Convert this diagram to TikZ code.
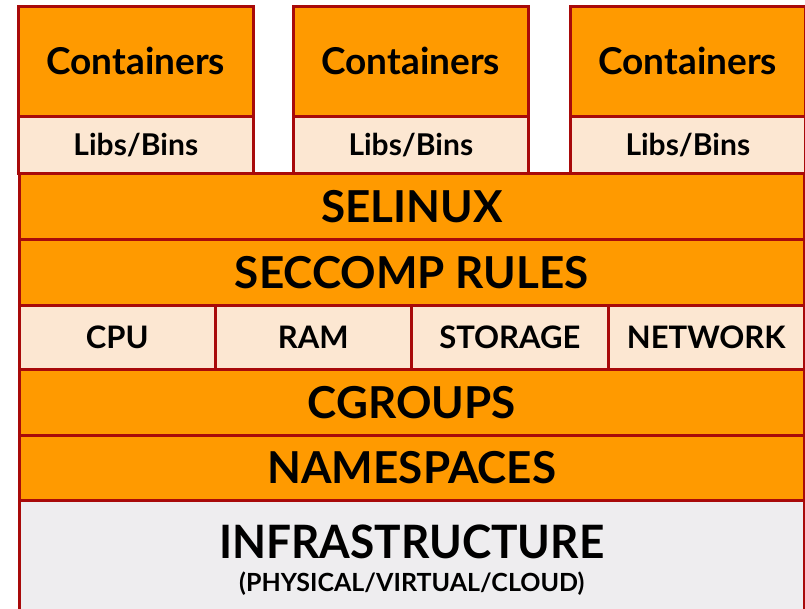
\documentclass[tikz,border=0pt]{standalone}
\usepackage{fontspec}
\setmainfont{Lato}
\definecolor{org}{HTML}{FF9A00}
\definecolor{edge}{HTML}{A80A0A}
\definecolor{peach}{HTML}{FCE7D2}
\definecolor{infra}{HTML}{EEEDEF}
\begin{document}
\begin{tikzpicture}[x=1pt,y=-1pt,
  blk/.style={draw=edge,line width=2.6pt,anchor=north west,inner sep=0pt,font=\bfseries},
  ob/.style={blk,fill=org},
  pb/.style={blk,fill=peach},
  ib/.style={blk,fill=infra},
  big/.style={font=\bfseries\fontsize{44}{44}\selectfont},
  res/.style={font=\bfseries\fontsize{31}{31}\selectfont}]
\useasboundingbox (0,0) rectangle (805,609);
% containers
\foreach \n/\x in {1/17,2/292,3/569}{
  \node[ob,minimum width=235pt,minimum height=110pt,font=\bfseries\fontsize{37}{37}\selectfont] (c\n) at (\x,5) {Containers};
  \node[pb,minimum width=235pt,minimum height=57pt,font=\bfseries\fontsize{30}{30}\selectfont] (l\n) at (\x,115) {Libs/Bins};
}
\node[ob,big,minimum width=785pt,minimum height=66pt] (sel) at (18,172) {SELINUX};
\node[ob,big,minimum width=785pt,minimum height=66pt] (sec) at (18,238) {SECCOMP RULES};
\node[pb,res,minimum width=196pt,minimum height=64pt] (cpu) at (18,304) {CPU};
\node[pb,res,minimum width=196pt,minimum height=64pt] (ram) at (214,304) {RAM};
\node[pb,res,minimum width=197pt,minimum height=64pt] (sto) at (410,304) {STORAGE};
\node[pb,res,minimum width=196pt,minimum height=64pt] (net) at (607,304) {NETWORK};
\node[ob,big,minimum width=785pt,minimum height=66pt] (cg) at (18,368) {CGROUPS};
\node[ob,big,minimum width=785pt,minimum height=65pt] (ns) at (18,434) {NAMESPACES};
\node[ib,minimum width=785pt,minimum height=112pt] (inf) at (18,499) {};
\node[align=center,inner sep=0pt] (inft) at ([yshift=-4pt]inf.center) {\scalebox{0.96}[1]{\fontsize{46}{46}\selectfont\bfseries INFRASTRUCTURE}\\[12pt]\fontsize{25}{25}\selectfont\bfseries (PHYSICAL/VIRTUAL/CLOUD)};
\end{tikzpicture}
\end{document}
